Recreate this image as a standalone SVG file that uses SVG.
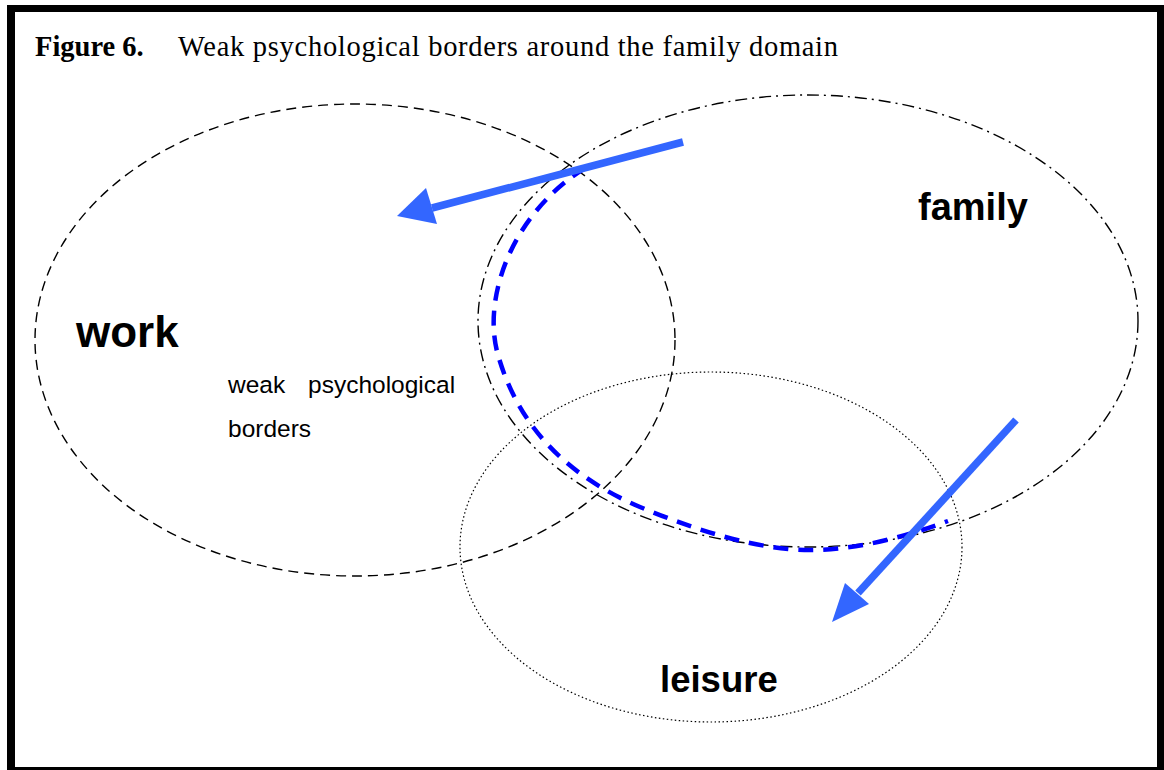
<svg xmlns="http://www.w3.org/2000/svg" width="1164" height="770" viewBox="0 0 1164 770">
<defs>
<style>
.ell{fill:none;stroke:#000;stroke-width:1.4}
.work{stroke-dasharray:10 6}
.family{stroke-dasharray:12 5 2 5}
.leisure{stroke-width:1.2;stroke-dasharray:1.5 2.5}
.lbl{font-family:"Liberation Sans",Arial,sans-serif;font-weight:bold;fill:#000}
.small{font-family:"Liberation Sans",Arial,sans-serif;font-size:24.5px;fill:#000}
.title{font-family:"Liberation Serif","Times New Roman",serif;font-size:28.5px;fill:#000}
.arrow{stroke:#3366FF;stroke-width:7.5;fill:none}
.head{fill:#3366FF}
</style>
</defs>
<rect x="0" y="0" width="1164" height="770" fill="#fff"/>
<path d="M7 5H1164V770H7Z M15 12V767H1157V12Z" fill="#000" fill-rule="evenodd"/>
<g id="title">
<text class="title" x="35" y="56" font-weight="bold">Figure 6.</text>
<text class="title" x="178" y="56" textLength="660" lengthAdjust="spacing">Weak psychological borders around the family domain</text>
</g>
<g id="work">
<ellipse class="ell work" cx="355" cy="340" rx="320" ry="236"/>
<text class="lbl" x="76" y="347" font-size="44">work</text>
<text class="small" x="228" y="393">weak</text>
<text class="small" x="308" y="393">psychological</text>
<text class="small" x="228" y="437">borders</text>
</g>
<g id="family">
<ellipse class="ell family" cx="808" cy="321" rx="330" ry="226"/>
<text class="lbl" x="918" y="220" font-size="38">family</text>
</g>
<g id="leisure">
<ellipse class="ell leisure" cx="711" cy="547" rx="251" ry="175"/>
<text class="lbl" x="660" y="692" font-size="36.5">leisure</text>
</g>
<g id="connectors">
<path d="M585 168 C510 215,482 300,498 355 C518 425,565 475,640 507 C700 532,760 550,810 550 C860 550,910 535,948 521" fill="none" stroke="#0000FF" stroke-width="4.5" stroke-dasharray="15 10"/>
<line class="arrow" x1="683" y1="142" x2="432" y2="208"/>
<polygon class="head" points="397,216 426,188 437,224"/>
<line class="arrow" x1="1016" y1="420" x2="858" y2="593"/>
<polygon class="head" points="832,622 845,583 869,604"/>
</g>
</svg>
